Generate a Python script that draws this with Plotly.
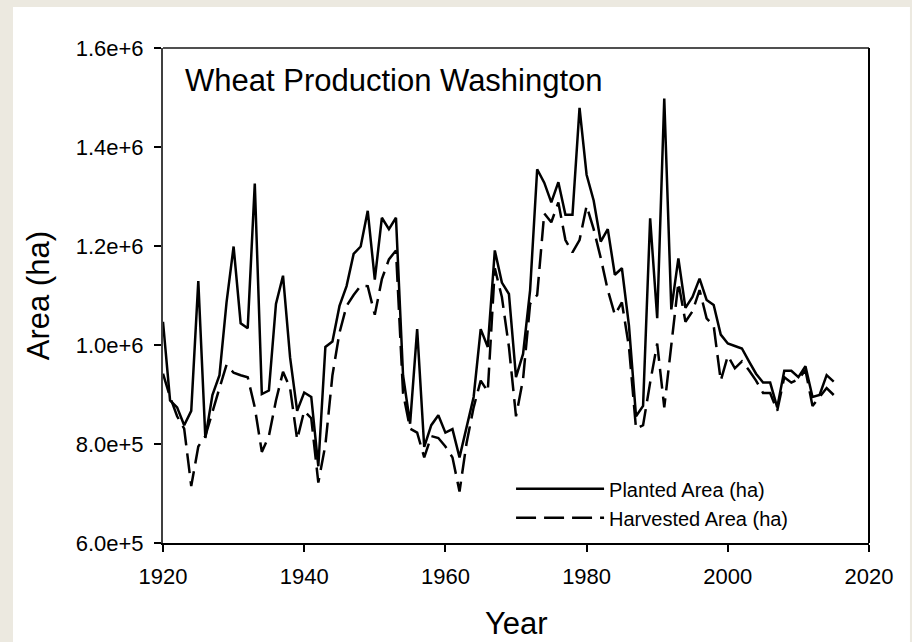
import plotly.graph_objects as go

# Washington wheat, planted and harvested area (ha)
years = list(range(1920, 2016))

planted = [
    1047000, 888000, 874000, 838000, 867000, 1129000, 812000, 899000, 939000, 1086000,
    1199000, 1044000, 1034000, 1326000, 901000, 908000, 1083000, 1140000, 975000, 867000,
    904000, 895000, 755000, 996000, 1007000, 1079000, 1119000, 1184000, 1199000, 1271000,
    1132000, 1257000, 1234000, 1257000, 939000, 841000, 1032000, 794000, 838000, 858000,
    823000, 830000, 773000, 834000, 895000, 1032000, 996000, 1191000, 1126000, 1103000,
    935000, 982000, 1111000, 1355000, 1328000, 1288000, 1329000, 1263000, 1263000, 1479000,
    1344000, 1292000, 1209000, 1234000, 1142000, 1155000, 1039000, 856000, 877000, 1256000,
    1054000, 1498000, 1072000, 1175000, 1075000, 1097000, 1134000, 1091000, 1081000, 1021000,
    1003000, 998000, 993000, 967000, 942000, 924000, 924000, 874000, 948000, 948000,
    935000, 957000, 895000, 899000, 939000, 926000,
]

harvested = [
    942000, 895000, 856000, 831000, 715000, 795000, 816000, 867000, 913000, 960000,
    944000, 939000, 935000, 874000, 784000, 816000, 888000, 946000, 913000, 809000,
    867000, 852000, 722000, 798000, 939000, 1025000, 1079000, 1101000, 1120000, 1119000,
    1061000, 1133000, 1173000, 1191000, 903000, 831000, 823000, 773000, 816000, 812000,
    795000, 773000, 704000, 802000, 874000, 928000, 906000, 1155000, 1097000, 996000,
    856000, 931000, 1083000, 1101000, 1266000, 1248000, 1288000, 1212000, 1187000, 1212000,
    1281000, 1234000, 1176000, 1111000, 1061000, 1086000, 996000, 831000, 838000, 924000,
    1003000, 874000, 1003000, 1126000, 1047000, 1068000, 1111000, 1054000, 1039000, 928000,
    978000, 953000, 967000, 949000, 928000, 903000, 903000, 867000, 935000, 924000,
    931000, 949000, 877000, 895000, 913000, 899000,
]

x_ticks = [1920, 1940, 1960, 1980, 2000, 2020]
y_ticks = [600000, 800000, 1000000, 1200000, 1400000, 1600000]
y_tick_text = ["6.0e+5", "8.0e+5", "1.0e+6", "1.2e+6", "1.4e+6", "1.6e+6"]

FONT = "Arial, Liberation Sans, sans-serif"
PAGE = "#ECE9E0"

fig = go.Figure()
fig.add_trace(go.Scatter(
    x=years, y=planted, mode="lines", name="Planted Area (ha)",
    line=dict(color="black", width=2.5),
))
fig.add_trace(go.Scatter(
    x=years, y=harvested, mode="lines", name="Harvested Area (ha)",
    line=dict(color="black", width=2.5, dash="20px,8px"),
))

# white card on the beige page, plus the top / right frame lines
fig.add_shape(type="rect", xref="paper", yref="paper",
              x0=-0.2125, x1=1.058, y0=-0.21, y1=1.083,
              fillcolor="white", line=dict(width=0), layer="below")
fig.add_shape(type="line", xref="paper", yref="paper", x0=0, x1=1, y0=1, y1=1,
              line=dict(color="#505050", width=2))
fig.add_shape(type="line", xref="paper", yref="paper", x0=1, x1=1, y0=0, y1=1,
              line=dict(color="black", width=2))

fig.add_annotation(text="Wheat Production Washington", xref="paper", yref="paper",
                   x=0.029, y=0.935, xanchor="left", yanchor="middle",
                   showarrow=False, font=dict(family=FONT, size=31, color="black"))
fig.add_annotation(text="Year", xref="paper", yref="paper",
                   x=0.5, y=-0.162, xanchor="center", yanchor="middle",
                   showarrow=False, font=dict(family=FONT, size=31, color="black"))
fig.add_annotation(text="Area (ha)", xref="paper", yref="paper",
                   x=-0.176, y=0.5, xanchor="center", yanchor="middle", textangle=-90,
                   showarrow=False, font=dict(family=FONT, size=31, color="black"))

fig.update_layout(
    width=912, height=642,
    margin=dict(l=163, r=43, t=48, b=99),
    paper_bgcolor=PAGE,
    plot_bgcolor="white",
    showlegend=True,
    legend=dict(
        x=0.493, y=0.149, xanchor="left", yanchor="top",
        bgcolor="rgba(0,0,0,0)", borderwidth=0,
        font=dict(family=FONT, size=20, color="black"),
        itemwidth=88, tracegroupgap=0,
    ),
    font=dict(family=FONT, color="black"),
)

fig.update_xaxes(
    range=[1920, 2020], tickvals=x_ticks, showgrid=False, zeroline=False,
    showline=True, linecolor="black", linewidth=2,
    ticks="outside", ticklen=7, tickwidth=1.5, tickcolor="black",
    tickfont=dict(family=FONT, size=22, color="black"),
    ticklabelstandoff=6,
)
fig.update_yaxes(
    range=[600000, 1600000], tickvals=y_ticks, ticktext=y_tick_text,
    showgrid=False, zeroline=False,
    showline=True, linecolor="#404040", linewidth=2,
    ticks="outside", ticklen=7, tickwidth=1.5, tickcolor="black",
    tickfont=dict(family=FONT, size=22, color="black"),
    ticklabelstandoff=6,
)

# drop the browser's default 8px body margin so the figure sits at the page corner
fig.write_html(
    "out.html",
    config={"displayModeBar": False},
    post_script=f"document.body.style.margin='0';document.body.style.background='{PAGE}';",
)
